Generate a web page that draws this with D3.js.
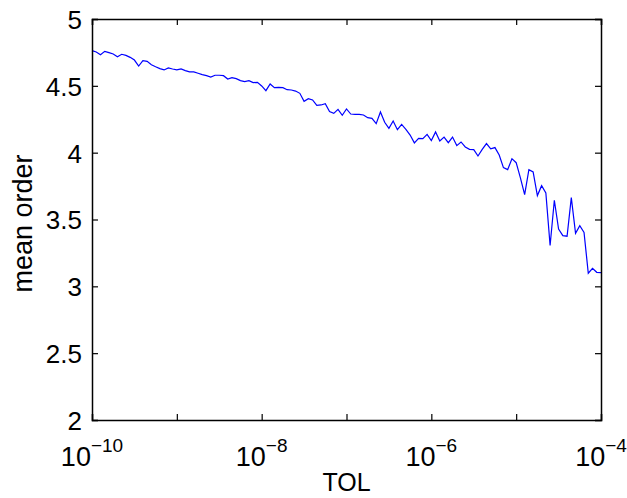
<!DOCTYPE html>
<meta charset="utf-8">
<script src="https://d3js.org/d3.v7.min.js"></script>
<style>
  body { margin: 0; background: #fff; }
  text { font-family: "Liberation Sans", Arial, sans-serif; fill: #000; }
</style>
<div id="chart"></div>
<script>
  // TOL sampled 20 points per decade from 1e-10 to 1e-4
  var tolExp = d3.range(121).map(i => -10 + i * 0.05);

  var meanOrder = [
    4.763, 4.753, 4.733, 4.758, 4.748, 4.738, 4.718, 4.736, 4.728, 4.713,
    4.693, 4.648, 4.688, 4.683, 4.658, 4.643, 4.629, 4.619, 4.634, 4.626,
    4.619, 4.626, 4.614, 4.604, 4.604, 4.594, 4.584, 4.576, 4.566, 4.579,
    4.579, 4.576, 4.551, 4.561, 4.554, 4.539, 4.531, 4.539, 4.524, 4.526,
    4.499, 4.464, 4.514, 4.486, 4.489, 4.486, 4.471, 4.469, 4.461, 4.444,
    4.384, 4.404, 4.394, 4.354, 4.357, 4.367, 4.307, 4.294, 4.324, 4.280,
    4.327, 4.289, 4.287, 4.287, 4.282, 4.262, 4.257, 4.217, 4.304, 4.227,
    4.182, 4.237, 4.172, 4.212, 4.175, 4.132, 4.073, 4.107, 4.105, 4.137,
    4.090, 4.155, 4.088, 4.117, 4.075, 4.117, 4.053, 4.080, 4.043, 4.025,
    4.023, 3.975, 4.025, 4.068, 4.028, 4.038, 3.983, 3.888, 3.873, 3.955,
    3.925, 3.811, 3.686, 3.873, 3.856, 3.679, 3.753, 3.699, 3.305, 3.644,
    3.429, 3.379, 3.375, 3.664, 3.397, 3.454, 3.404, 3.098, 3.135, 3.105,
    3.103
  ];

  var xTicks = [1e-10, 1e-9, 1e-8, 1e-7, 1e-6, 1e-5, 1e-4];
  var xLabelExp = [-10, -8, -6, -4];
  var yTicks = [2, 2.5, 3, 3.5, 4, 4.5, 5];

  var data = tolExp.map((e, i) => ({tol: Math.pow(10, e), v: meanOrder[i]}));

  var margin = {top: 19, right: 26, bottom: 78, left: 92},
      width = 627 - margin.left - margin.right,
      height = 498 - margin.top - margin.bottom;

  var svg = d3.select("#chart")
    .append("svg")
      .attr("width", 627)
      .attr("height", 498)
    .append("g")
      .attr("transform", "translate(" + margin.left + "," + margin.top + ")");

  var x = d3.scaleLog().domain([1e-10, 1e-4]).range([0, width]);
  var y = d3.scaleLinear().domain([2, 5]).range([height, 0]);

  // line
  svg.append("path")
    .datum(data)
    .attr("fill", "none")
    .attr("stroke", "#0000ff")
    .attr("stroke-width", 1.2)
    .attr("d", d3.line().x(d => x(d.tol)).y(d => y(d.v)));

  // axes, ticks pointing inward on all four sides
  svg.append("g")
    .attr("transform", "translate(0," + height + ")")
    .call(d3.axisBottom(x).tickValues(xTicks).tickSize(-6).tickFormat(""));
  svg.append("g")
    .call(d3.axisTop(x).tickValues(xTicks).tickSize(-6).tickFormat(""));
  var gy = svg.append("g")
    .call(d3.axisLeft(y).tickValues(yTicks).tickSize(-6).tickPadding(10).tickFormat(d3.format("")));
  svg.append("g")
    .attr("transform", "translate(" + width + ",0)")
    .call(d3.axisRight(y).tickValues(yTicks).tickSize(-6).tickFormat(""));

  svg.selectAll(".domain").attr("stroke", "#000").attr("stroke-width", 1.5);
  svg.selectAll(".tick line").attr("stroke", "#000").attr("stroke-width", 1.2);

  gy.selectAll(".tick text")
    .style("font-size", "26px")
    .attr("dy", "0.36em");

  // 10^n labels
  xLabelExp.forEach(function(e) {
    var t = svg.append("text")
      .attr("x", x(Math.pow(10, e)))
      .attr("y", height + 46)
      .attr("text-anchor", "middle")
      .style("font-size", "27px");
    t.append("tspan").text("10");
    t.append("tspan")
      .attr("dy", -14)
      .style("font-size", "19px")
      .text("\u2212" + Math.abs(e));
  });

  svg.append("text")
    .attr("x", width / 2)
    .attr("y", height + 71)
    .attr("text-anchor", "middle")
    .style("font-size", "25px")
    .text("TOL");

  svg.append("text")
    .attr("transform", "rotate(-90)")
    .attr("x", -height / 2 - 4)
    .attr("y", -60)
    .attr("text-anchor", "middle")
    .style("font-size", "27px")
    .text("mean order");
</script>
